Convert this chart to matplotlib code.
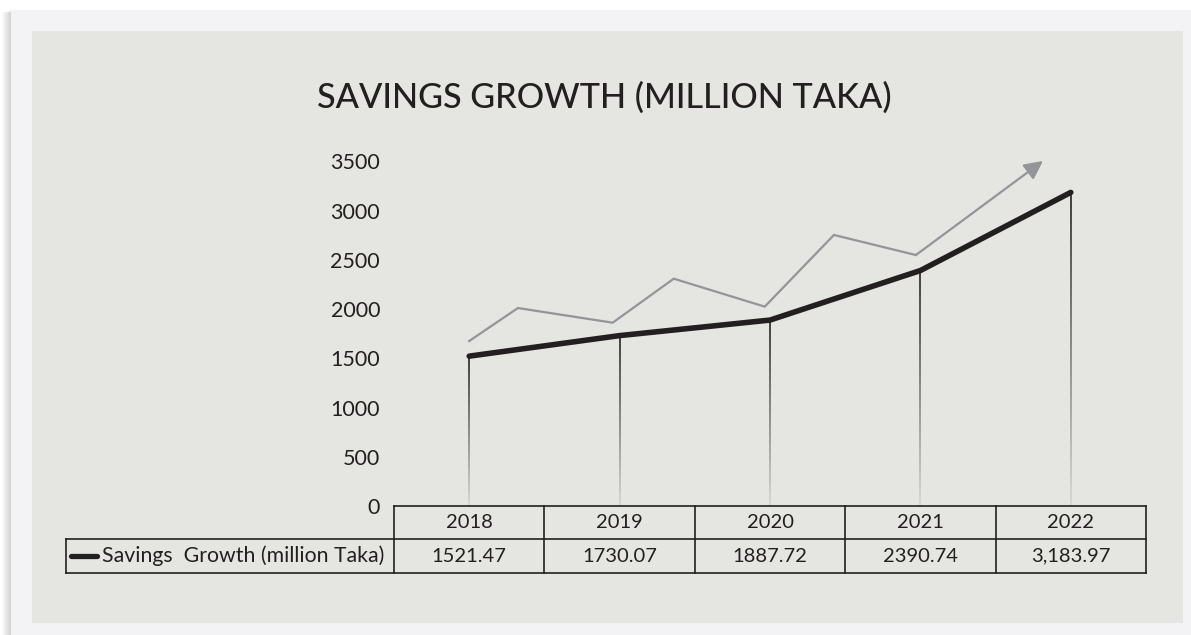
import matplotlib.pyplot as plt
import matplotlib.transforms as mtransforms
import numpy as np
from matplotlib.collections import LineCollection
from matplotlib.colors import to_rgb
from matplotlib.patches import Rectangle

plt.rcParams['font.family'] = ['Lato', 'DejaVu Sans']

years = ['2018', '2019', '2020', '2021', '2022']
savings = [1521.47, 1730.07, 1887.72, 2390.74, 3183.97]
savings_labels = ['1521.47', '1730.07', '1887.72', '2390.74', '3,183.97']
series_name = 'Savings  Growth (million Taka)'

# decorative upward trend arrow (x in category units)
trend_x = [0.0, 0.324, 0.954, 1.36, 1.965, 2.425, 2.97, 3.815]
trend_y = [1675, 2010, 1861, 2308, 2024, 2752, 2548, 3503]

W, H = 1191, 635
dark = '#231f20'
panel = '#e5e6e1'
outer = '#f3f3f5'

fig = plt.figure(figsize=(W / 100, H / 100), dpi=100)
fig.patch.set_facecolor('white')


def px_rect(x0, y0, x1, y1, **kw):
    return Rectangle((x0 / W, 1 - y1 / H), (x1 - x0) / W, (y1 - y0) / H,
                     transform=fig.transFigure, **kw)


# soft shadow on the left of the card
for i in range(10):
    fig.patches.append(px_rect(11 - i, 10 + i * 0.3, W + 20, H + 20, facecolor='black',
                               edgecolor='none', alpha=0.018, zorder=0))
fig.patches.append(px_rect(11, 10, W + 20, H + 20, facecolor=outer, edgecolor='none', zorder=1))
fig.patches.append(px_rect(32, 31, 1183, 623, facecolor=panel, edgecolor='none', zorder=2))

fig.text(604 / W, 1 - 108 / H, 'SAVINGS GROWTH (MILLION TAKA)', ha='center',
         va='baseline', fontsize=24.7, fontweight='medium', color=dark, zorder=6)

# plot area: y=0 sits on the top edge of the table
ax = fig.add_axes([394 / W, 1 - 506 / H, 752 / W, 366 / H])
ax.set_zorder(5)
ax.patch.set_alpha(0)
ax.set_xlim(-0.5, 4.5)
ax.set_ylim(0, 3716)
for s in ax.spines.values():
    s.set_visible(False)
ax.set_xticks([])
ax.set_yticks(range(0, 3501, 500))
ax.tick_params(axis='y', length=0, pad=10, labelsize=15.5, labelcolor=dark)

x = np.arange(len(years))

# drop lines fading toward the baseline
c_top = np.array(to_rgb(dark))
c_bot = np.array(to_rgb('#d4d4d0'))
for xi, v in zip(x, savings):
    ys = np.linspace(0, v, 80)
    segs = [[(xi, ys[k]), (xi, ys[k + 1])] for k in range(len(ys) - 1)]
    t = np.linspace(0, 1, len(segs))[:, None]
    cols = c_bot + (c_top - c_bot) * t
    ax.add_collection(LineCollection(segs, colors=cols, linewidths=1.2, zorder=3))

ax.plot(trend_x[:-1], trend_y[:-1], color='#939598', lw=1.6, zorder=3,
        solid_joinstyle='miter')
ax.annotate('', xy=(trend_x[-1], trend_y[-1]), xytext=(trend_x[-2], trend_y[-2]),
            arrowprops=dict(arrowstyle='-|>', color='#939598', lw=1.6,
                            mutation_scale=28, shrinkA=0, shrinkB=0), zorder=3)

ax.plot(x, savings, color=dark, lw=4.0, solid_capstyle='round',
        solid_joinstyle='round', zorder=4)

# data table under the plot
trans = mtransforms.blended_transform_factory(ax.transData, ax.transAxes)
r0, r1, r2 = 0, -33 / 366, -67 / 366
left = (66 - 469.2) / 150.4
kw = dict(color=dark, lw=1.2, transform=trans, clip_on=False, zorder=5)
ax.plot([-0.5, 4.5], [r0, r0], **kw)
ax.plot([left, 4.5], [r1, r1], **kw)
ax.plot([left, 4.5], [r2, r2], **kw)
for b in np.arange(-0.5, 5, 1.0):
    ax.plot([b, b], [r0, r2], **kw)
ax.plot([left, left], [r1, r2], **kw)

for xi, yr, lab in zip(x, years, savings_labels):
    ax.text(xi, (r0 + r1) / 2, yr, ha='center', va='center', fontsize=14.5,
            color=dark, transform=trans)
    ax.text(xi, (r1 + r2) / 2, lab, ha='center', va='center', fontsize=14.5,
            color=dark, transform=trans)

leg_x0 = (71 - 469.2) / 150.4
leg_x1 = (97 - 469.2) / 150.4
ax.plot([leg_x0, leg_x1], [(r1 + r2) / 2] * 2, color=dark, lw=3.8,
        solid_capstyle='round', transform=trans, clip_on=False, zorder=5)
ax.text((102 - 469.2) / 150.4, (r1 + r2) / 2, series_name, ha='left',
        va='center', fontsize=15.3, color=dark, transform=trans)

fig.savefig('out.png', dpi=100, facecolor=fig.get_facecolor())
